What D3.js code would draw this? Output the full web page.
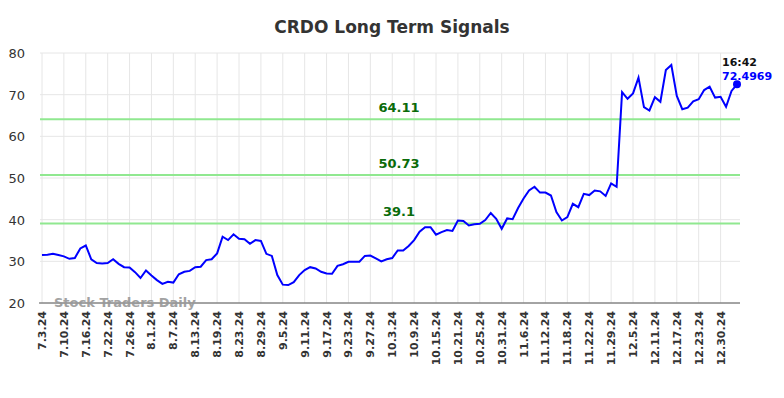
<!DOCTYPE html>
<html>
<head>
<meta charset="utf-8">
<script src="https://cdn.jsdelivr.net/npm/d3@7"></script>
<style>
 body { margin: 0; background: #fff; }
 text { font-family: "DejaVu Sans", sans-serif; }
</style>
</head>
<body>
<script>
const width = 784;
const height = 398;

// tick labels, one every 4 trading days
const tickLabels = ["7.3.24","7.10.24","7.16.24","7.22.24","7.26.24","8.1.24","8.7.24","8.13.24",
 "8.19.24","8.23.24","8.29.24","9.5.24","9.11.24","9.17.24","9.23.24","9.27.24","10.3.24","10.9.24",
 "10.15.24","10.21.24","10.25.24","10.31.24","11.6.24","11.12.24","11.18.24","11.22.24","11.29.24",
 "12.5.24","12.11.24","12.17.24","12.23.24","12.30.24"];
const tickStep = 4;

const prices = [
 31.5, 31.6, 31.8, 31.5, 31.2, 30.6, 30.8, 33.1, 33.8, 30.5,
 29.6, 29.5, 29.6, 30.5, 29.4, 28.6, 28.5, 27.4, 26.0, 27.8,
 26.6, 25.5, 24.6, 25.1, 24.9, 26.9, 27.5, 27.7, 28.6, 28.7,
 30.3, 30.5, 31.9, 35.9, 35.1, 36.5, 35.4, 35.3, 34.2, 35.1,
 34.9, 31.8, 31.3, 26.7, 24.4, 24.3, 25.0, 26.7, 27.9, 28.6,
 28.3, 27.5, 27.1, 27.0, 28.9, 29.3, 29.9, 29.9, 29.9, 31.3,
 31.4, 30.7, 30.0, 30.5, 30.8, 32.6, 32.6, 33.7, 35.1, 37.1,
 38.2, 38.2, 36.4, 37.0, 37.5, 37.3, 39.8, 39.7, 38.6, 38.9,
 39.0, 39.9, 41.6, 40.2, 37.8, 40.3, 40.1, 42.8, 45.1, 47.0,
 47.9, 46.5, 46.5, 45.8, 41.8, 39.8, 40.6, 43.8, 43.0, 46.2,
 45.9, 47.0, 46.8, 45.7, 48.7, 47.9, 70.6, 69.0, 70.3, 74.1,
 67.0, 66.2, 69.4, 68.3, 75.9, 77.1, 69.7, 66.5, 66.9, 68.4,
 68.9, 71.1, 71.9, 69.3, 69.5, 67.1, 70.9, 72.4969
];

const signals = [64.11, 50.73, 39.1];
const yTicks = [20, 30, 40, 50, 60, 70, 80];
const lastTime = "16:42";

const svg = d3.select("body").append("svg")
  .attr("width", width)
  .attr("height", height);

const x = d3.scaleLinear().domain([0, prices.length - 1]).range([42, 737]);
const y = d3.scaleLinear().domain([20, 80]).range([303, 53]);
const left = 40, right = 740;

// title
svg.append("text")
  .attr("x", 392).attr("y", 33)
  .attr("text-anchor", "middle")
  .attr("font-size", 17).attr("font-weight", "bold")
  .attr("fill", "#333")
  .text("CRDO Long Term Signals");

// horizontal grid + y labels
svg.selectAll(".hgrid").data(yTicks).enter().append("line")
  .attr("x1", left).attr("x2", right)
  .attr("y1", d => y(d)).attr("y2", d => y(d))
  .attr("stroke", "#e6e6e6").attr("stroke-width", 1);

svg.selectAll(".ylab").data(yTicks).enter().append("text")
  .attr("x", 25).attr("y", d => y(d) + 5)
  .attr("text-anchor", "end")
  .attr("font-size", 13).attr("fill", "#333")
  .text(d => d);

// vertical grid + x labels
const tickIdx = tickLabels.map((d, i) => i * tickStep);
svg.selectAll(".vgrid").data(tickIdx).enter().append("line")
  .attr("x1", d => x(d)).attr("x2", d => x(d))
  .attr("y1", 53).attr("y2", 303)
  .attr("stroke", "#e6e6e6").attr("stroke-width", 1);

svg.selectAll(".xlab").data(tickLabels).enter().append("text")
  .attr("transform", (d, i) => "translate(" + (x(i * tickStep) + 4) + ",311) rotate(-90)")
  .attr("text-anchor", "end")
  .attr("font-size", 11).attr("font-weight", "bold").attr("fill", "#333")
  .text(d => d);

// bottom axis line
svg.append("line")
  .attr("x1", 39).attr("x2", right)
  .attr("y1", 303).attr("y2", 303)
  .attr("stroke", "#555").attr("stroke-width", 1);

// watermark
svg.append("text")
  .attr("x", 54).attr("y", 307)
  .attr("font-size", 13).attr("font-weight", "bold")
  .attr("fill", "#999").attr("opacity", 0.9)
  .text("Stock Traders Daily");

// signal lines
svg.selectAll(".sig").data(signals).enter().append("line")
  .attr("x1", left).attr("x2", right)
  .attr("y1", d => y(d)).attr("y2", d => y(d))
  .attr("stroke", "#90e890").attr("stroke-width", 2);

svg.selectAll(".siglab").data(signals).enter().append("text")
  .attr("x", 399).attr("y", d => y(d) - 7)
  .attr("text-anchor", "middle")
  .attr("font-size", 13).attr("font-weight", "bold").attr("fill", "#0a6b0a")
  .text(d => d);

// price line
const line = d3.line()
  .x((d, i) => x(i))
  .y(d => y(d));

svg.append("path")
  .datum(prices)
  .attr("d", line)
  .attr("fill", "none")
  .attr("stroke", "#0000ff")
  .attr("stroke-width", 2);

const last = prices.length - 1;
svg.append("circle")
  .attr("cx", x(last)).attr("cy", y(prices[last]))
  .attr("r", 4)
  .attr("fill", "#0000ff");

svg.append("text")
  .attr("x", 722).attr("y", 66)
  .attr("font-size", 11).attr("font-weight", "bold").attr("fill", "#111")
  .text(lastTime);

svg.append("text")
  .attr("x", 722).attr("y", 80)
  .attr("font-size", 11).attr("font-weight", "bold").attr("fill", "#0000ff")
  .text(prices[last]);
</script>
</body>
</html>
